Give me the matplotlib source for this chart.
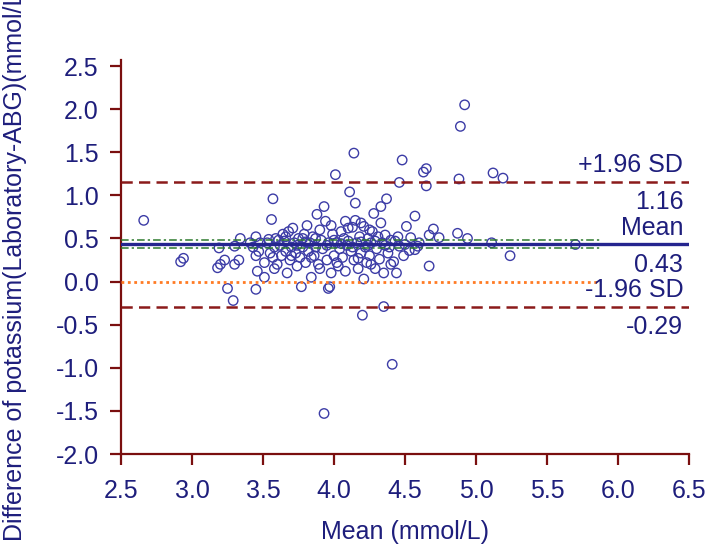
import matplotlib
matplotlib.use("Agg")
import matplotlib.pyplot as plt

plt.rcParams['font.family'] = ['Liberation Sans', 'DejaVu Sans']

# Bland-Altman data: mean of the two methods (x) and difference (y)
means = [
    2.66, 2.92, 2.94, 3.18, 3.20, 3.23, 3.19, 3.25, 3.29, 3.30, 3.33, 3.30, 3.34,
    3.41, 3.45, 3.45, 3.46, 3.45, 3.43, 3.48, 3.51, 3.51, 3.53, 3.54, 3.56, 3.57,
    3.55, 3.58, 3.57, 3.59, 3.60, 3.62, 3.63, 3.64, 3.65, 3.66, 3.67, 3.68, 3.69,
    3.70, 3.71, 3.72, 3.73, 3.74, 3.75, 3.76, 3.77, 3.78, 3.79, 3.80, 3.81, 3.82,
    3.83, 3.84, 3.85, 3.86, 3.87, 3.88, 3.89, 3.90, 3.91, 3.92, 3.93, 3.93, 3.94,
    3.95, 3.96, 3.97, 3.96, 3.98, 3.99, 4.00, 4.01, 4.02, 4.03, 4.04, 4.05, 4.06,
    4.07, 4.08, 4.09, 4.10, 4.11, 4.12, 4.13, 4.14, 4.14, 4.15, 4.15, 4.16, 4.17,
    4.18, 4.19, 4.20, 4.21, 4.21, 4.22, 4.23, 4.24, 4.25, 4.26, 4.27, 4.28, 4.29,
    4.30, 4.31, 4.32, 4.33, 4.33, 4.34, 4.35, 4.35, 4.36, 4.37, 4.38, 4.39, 4.40,
    4.41, 4.42, 4.43, 4.44, 4.45, 4.46, 4.46, 4.48, 4.49, 4.50, 4.51, 4.53, 4.54,
    4.57, 4.57, 4.59, 4.60, 4.63, 4.65, 4.65, 4.67, 4.67, 4.70, 4.74, 4.87, 4.88,
    4.89, 4.92, 4.94, 5.11, 5.12, 5.19, 5.24, 5.70,
    3.47, 3.61, 3.66, 3.74, 3.80, 3.87, 3.95, 4.00, 4.05, 4.10, 4.13, 4.19, 4.24,
    4.29, 4.36, 4.40, 3.70, 3.84, 4.02, 4.17, 4.26, 3.58, 3.90, 4.08, 3.98, 4.19,
    4.25, 3.78,
]
diffs = [
    0.71, 0.23, 0.27, 0.16, 0.20, 0.25, 0.39, -0.08, -0.22, 0.20, 0.25, 0.41, 0.50,
    0.45, 0.52, 0.30, 0.12, -0.09, 0.40, 0.45, 0.22, 0.05, 0.45, 0.49, 0.72, 0.96,
    0.33, 0.40, 0.28, 0.50, 0.20, 0.42, 0.30, 0.55, 0.47, 0.35, 0.10, 0.58, 0.25,
    0.40, 0.62, 0.45, 0.33, 0.18, 0.50, 0.28, -0.06, 0.40, 0.55, 0.22, 0.65, 0.35,
    0.45, 0.05, 0.52, 0.30, 0.40, 0.78, 0.20, 0.60, 0.48, 0.38, 0.87, -1.53, 0.70,
    0.25, -0.08, -0.06, 0.45, 0.10, 0.55, 0.30, 1.24, 0.45, 0.18, 0.38, 0.58, 0.28,
    0.50, 0.12, 0.42, 0.62, 1.04, 0.35, 0.63, 1.49, 0.25, 0.91, 0.71, 0.45, 0.15,
    0.52, 0.33, -0.39, 0.03, 0.64, 0.40, 0.22, 0.50, 0.30, 0.45, 0.58, 0.79, 0.15,
    0.38, 0.52, 0.26, 0.87, 0.68, 0.45, 0.10, -0.29, 0.54, 0.96, 0.33, 0.40, 0.20,
    -0.96, 0.23, 0.47, 0.10, 0.52, 1.15, 0.41, 1.41, 0.30, 0.43, 0.64, 0.36, 0.51,
    0.76, 0.37, 0.41, 0.45, 1.27, 1.31, 1.11, 0.54, 0.18, 0.61, 0.51, 0.56, 1.19,
    1.80, 2.05, 0.50, 0.45, 1.26, 1.20, 0.30, 0.43,
    0.35, 0.48, 0.52, 0.42, 0.46, 0.50, 0.42, 0.48, 0.44, 0.47, 0.40, 0.46, 0.42,
    0.47, 0.42, 0.48, 0.30, 0.28, 0.22, 0.27, 0.20, 0.15, 0.15, 0.70, 0.65, 0.68,
    0.60, 0.50,
]

mean_diff = 0.43
upper_loa = 1.16
lower_loa = -0.29
ci_low, ci_high = 0.385, 0.485
ci_xmax = 5.87

x_ticks = [2.5, 3.0, 3.5, 4.0, 4.5, 5.0, 5.5, 6.0, 6.5]
y_ticks = [-2.0, -1.5, -1.0, -0.5, 0.0, 0.5, 1.0, 1.5, 2.0, 2.5]

navy = '#1e1e7c'
point_col = '#3c3ca6'
axis_col = '#7a0f0f'
loa_col = '#8b1a1a'
green = '#2e7a2e'
orange = '#ff7b24'

fig = plt.figure(figsize=(7.05, 5.45), dpi=100)
ax = fig.add_axes([121 / 705, 91 / 545, 568 / 705, 394 / 545])

ax.scatter(means, diffs, s=46, facecolors='none', edgecolors=point_col,
           linewidths=1.0, zorder=2)

ax.hlines(0.0, 2.5, ci_xmax, colors=orange, linestyles=(0, (1.0, 1.3)),
          linewidth=2.0, zorder=3)
for v in (ci_low, ci_high):
    ax.hlines(v, 2.5, ci_xmax, colors=green, linestyles=(0, (5, 2, 1.5, 2)),
              linewidth=1.1, zorder=3)
ax.axhline(mean_diff, color='#25258f', linewidth=2.4, zorder=4)
for v in (upper_loa, lower_loa):
    ax.axhline(v, color=loa_col, linestyle=(0, (4.5, 2.5)), linewidth=1.8,
               zorder=4)

fs = 18
trans = ax.get_yaxis_transform()
labels = [
    ("+1.96 SD", upper_loa, 7), (f"{upper_loa:.2f}", upper_loa, -20),
    ("Mean", mean_diff, 7), (f"{mean_diff:.2f}", mean_diff, -20),
    ("-1.96 SD", lower_loa, 7), (f"{lower_loa:.2f}", lower_loa, -20),
]
for txt, v, off in labels:
    ax.annotate(txt, xy=(0.99, v), xycoords=trans, xytext=(0, off),
                textcoords='offset points', ha='right', va='baseline',
                fontsize=fs, color=navy)

ax.set_xlim(2.5, 6.5)
ax.set_ylim(-2.0, 2.57)
ax.set_xticks(x_ticks)
ax.set_xticklabels([f"{t:.1f}" for t in x_ticks])
ax.set_yticks(y_ticks)
ax.set_yticklabels([f"{t:.1f}" for t in y_ticks])

for side in ('top', 'right'):
    ax.spines[side].set_visible(False)
for side in ('left', 'bottom'):
    ax.spines[side].set_color(axis_col)
    ax.spines[side].set_linewidth(1.6)
ax.spines['bottom'].set_bounds(2.5, 6.5)
ax.tick_params(axis='both', direction='out', length=8, width=1.6,
               color=axis_col, labelcolor=navy, labelsize=fs)
ax.tick_params(axis='x', pad=10)
ax.tick_params(axis='y', pad=8)

ax.set_xlabel("Mean (mmol/L)", fontsize=fs, color=navy, labelpad=12)
ax.set_ylabel("Difference of potassium(Laboratory-ABG)(mmol/L)", fontsize=fs,
              color=navy)
ax.yaxis.set_label_coords(-0.165, 0.487)

fig.savefig("out.png", dpi=100)
